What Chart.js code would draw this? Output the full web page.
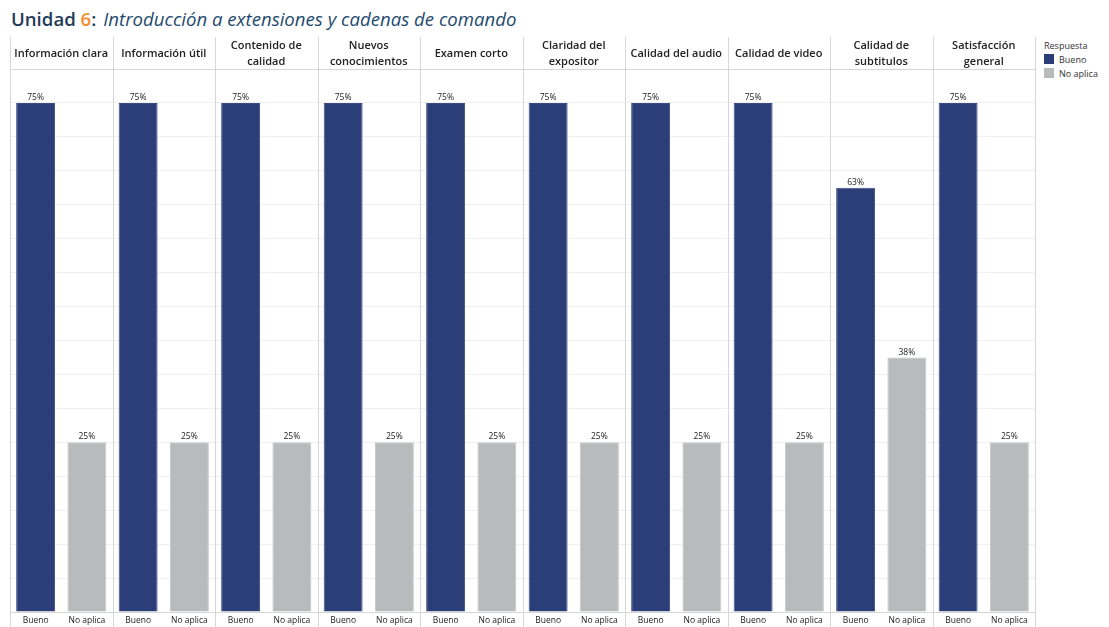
<!DOCTYPE html>
<html><head><meta charset="utf-8">
<script src="https://cdn.jsdelivr.net/npm/chart.js@4.4.1/dist/chart.umd.min.js"></script>
<style>
html,body{margin:0;padding:0;background:#fff;overflow:hidden;}
#wrap{position:relative;width:1109px;height:627px;}
#title{position:absolute;left:11px;top:6px;font-family:"Open Sans",sans-serif;font-size:18.6px;white-space:nowrap;color:#1f3b57;}
#title .u{font-weight:600;}
#title .n{color:#f28e2b;font-weight:600;}
#title .t{font-style:italic;color:#1e4a6e;margin-left:7px;}
#legend{position:absolute;left:1044px;top:39px;font-family:"Open Sans",sans-serif;font-size:9px;color:#333;}
#legend .row{display:flex;align-items:center;height:14px;}
#legend .sw{width:10px;height:10px;margin-right:5px;}
canvas{position:absolute;left:0;top:0;}
</style></head>
<body><div id="wrap">
<div id="title"><span class="u">Unidad </span><span class="n">6</span><span class="u">:</span><span class="t">Introducción a extensiones y cadenas de comando</span></div>
<div id="legend"></div>
<canvas id="c" width="1109" height="627"></canvas>
</div>
<script>
const questions = [
  ["Información clara"], ["Información útil"], ["Contenido de","calidad"], ["Nuevos","conocimientos"],
  ["Examen corto"], ["Claridad del","expositor"], ["Calidad del audio"], ["Calidad de video"],
  ["Calidad de","subtitulos"], ["Satisfacción","general"]
];
const responses = ["Bueno", "No aplica"];
const buenoValues    = [75, 75, 75, 75, 75, 75, 75, 75, 62.5, 75];
const noAplicaValues = [25, 25, 25, 25, 25, 25, 25, 25, 37.5, 25];
const colors = ["#2b3e77", "#b8bbbb"];
const legendTitle = "Respuesta";

const labels = [];
const dBueno = [], dNo = [];
questions.forEach((q, i) => {
  labels.push(responses[0]); labels.push(responses[1]);
  dBueno.push(buenoValues[i]); dBueno.push(null);
  dNo.push(null); dNo.push(noAplicaValues[i]);
});

const lg = document.getElementById('legend');
let html = '<div style="height:13px">' + legendTitle + '</div>';
responses.forEach((r, i) => {
  html += '<div class="row"><div class="sw" style="background:' + colors[i] + '"></div>' + r + '</div>';
});
lg.innerHTML = html;

const FONT = '"Open Sans", sans-serif';

const decor = {
  id: 'decor',
  beforeDatasetsDraw(chart) {
    const {ctx, chartArea: a} = chart;
    ctx.save();
    ctx.strokeStyle = '#d6d6d6';
    ctx.lineWidth = 1;
    const n = questions.length;
    const w = (a.right - a.left) / n;
    for (let k = 0; k <= n; k++) {
      const x = Math.round(a.left + k * w) + 0.5;
      ctx.beginPath(); ctx.moveTo(x, 37); ctx.lineTo(x, 627); ctx.stroke();
    }
    ctx.beginPath(); ctx.moveTo(a.left, Math.round(a.top) + 0.5); ctx.lineTo(a.right, Math.round(a.top) + 0.5); ctx.stroke();
    ctx.beginPath(); ctx.moveTo(a.left, Math.round(a.bottom) + 0.5); ctx.lineTo(a.right, Math.round(a.bottom) + 0.5); ctx.stroke();
    ctx.restore();
  },
  afterDatasetsDraw(chart) {
    const {ctx, chartArea: a} = chart;
    ctx.save();
    const n = questions.length;
    const w = (a.right - a.left) / n;
    ctx.fillStyle = '#222';
    ctx.font = '600 11px ' + FONT;
    ctx.textAlign = 'center';
    ctx.textBaseline = 'middle';
    questions.forEach((q, i) => {
      const cx = a.left + (i + 0.5) * w;
      const lh = 16;
      const y0 = 54 - (q.length - 1) * lh / 2;
      q.forEach((line, j) => ctx.fillText(line, cx, y0 + j * lh));
    });
    ctx.font = '8.5px ' + FONT;
    ctx.fillStyle = '#222';
    ctx.textBaseline = 'bottom';
    chart.data.datasets.forEach((ds, di) => {
      const meta = chart.getDatasetMeta(di);
      meta.data.forEach((bar, idx) => {
        const v = ds.data[idx];
        if (v == null) return;
        ctx.fillText(Math.round(v) + '%', bar.x, bar.y - 1);
      });
    });
    ctx.restore();
  }
};

new Chart(document.getElementById('c'), {
  type: 'bar',
  data: {
    labels: labels,
    datasets: [
      {label: responses[0], data: dBueno, backgroundColor: colors[0], borderColor: '#3a4d86', borderWidth: 1, grouped: false, categoryPercentage: 1, barPercentage: 0.76},
      {label: responses[1], data: dNo, backgroundColor: colors[1], borderColor: '#c4c6c6', borderWidth: 1, grouped: false, categoryPercentage: 1, barPercentage: 0.76}
    ]
  },
  options: {
    responsive: false,
    animation: false,
    layout: {padding: {left: 10, right: 74, top: 69, bottom: 0}},
    plugins: {legend: {display: false}, tooltip: {enabled: false}},
    scales: {
      x: {
        grid: {display: false, drawTicks: false},
        border: {display: false},
        ticks: {font: {family: FONT, size: 8.5}, color: '#222', padding: 3, maxRotation: 0, autoSkip: false},
        afterFit: s => { s.height = 15; }
      },
      y: {
        min: 0, max: 80,
        ticks: {display: false, stepSize: 5},
        grid: {color: '#f0f0f0', drawTicks: false},
        border: {display: false},
        afterFit: s => { s.width = 0; }
      }
    }
  },
  plugins: [decor]
});
</script>
</body></html>
